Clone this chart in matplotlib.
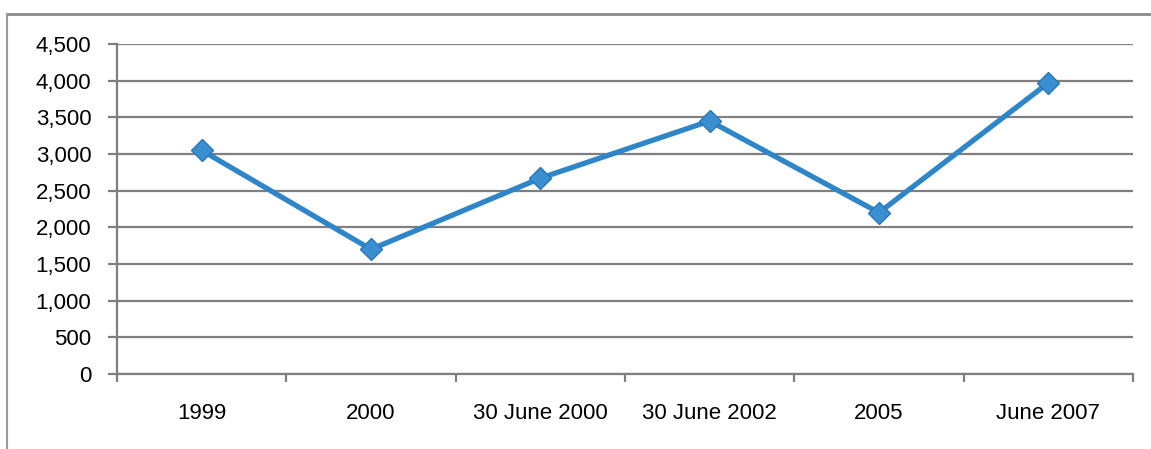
import matplotlib
matplotlib.use("Agg")
import matplotlib.pyplot as plt
from matplotlib.lines import Line2D

categories = ["1999", "2000", "30 June 2000", "30 June 2002", "2005", "June 2007"]
values = [3050, 1700, 2670, 3450, 2200, 3970]
y_ticks = [0, 500, 1000, 1500, 2000, 2500, 3000, 3500, 4000, 4500]

plt.rcParams["font.family"] = ["Liberation Sans", "DejaVu Sans"]

fig = plt.figure(figsize=(11.51, 4.49), dpi=100)
ax = fig.add_axes([117 / 1151, 1 - 374 / 449, (1133 - 117) / 1151, (374 - 44) / 449])

grid_color = "#7f7f7f"
line_color = "#2e86c8"

x = list(range(len(categories)))
ax.plot(x, values, color=line_color, lw=3.8, marker="D", markersize=11,
        markerfacecolor="#3a8fd0", markeredgecolor="#2a78b8", zorder=3,
        solid_joinstyle="miter")

ax.set_xlim(-0.5, len(categories) - 0.5)
ax.set_ylim(0, 4500)
ax.set_yticks(y_ticks)
ax.set_yticklabels([f"{v:,}" for v in y_ticks], fontsize=16)
ax.yaxis.grid(True, color=grid_color, lw=1.6)
ax.set_axisbelow(True)

# category labels centred, tick marks on category boundaries
ax.set_xticks(x)
ax.set_xticklabels(categories, fontsize=16)
ax.tick_params(axis="x", which="major", length=0, pad=21)
ax.set_xticks([i - 0.5 for i in range(len(categories) + 1)], minor=True)
ax.tick_params(axis="x", which="minor", length=6, width=1.6, color=grid_color, direction="out")
ax.tick_params(axis="y", length=6.5, width=1.6, color=grid_color, pad=12)

for side in ["top", "right"]:
    ax.spines[side].set_visible(False)
for side in ["left", "bottom"]:
    ax.spines[side].set_color(grid_color)
    ax.spines[side].set_linewidth(1.6)

# outer frame of the chart area
fig.add_artist(Line2D([7 / 1151, 1.0], [1 - 14 / 449, 1 - 14 / 449],
                      transform=fig.transFigure, color="#8a8a8a", lw=2))
fig.add_artist(Line2D([7 / 1151, 7 / 1151], [0, 1 - 14 / 449],
                      transform=fig.transFigure, color="#9a9a9a", lw=1.5))

fig.savefig("out.png", dpi=100)
